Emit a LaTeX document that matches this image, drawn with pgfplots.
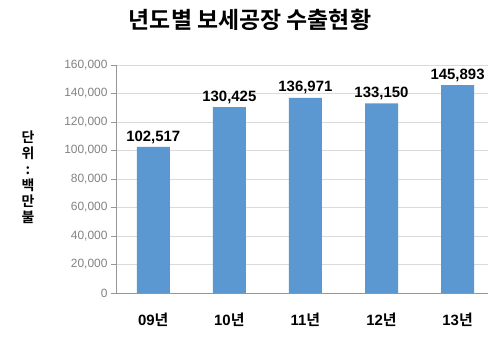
\documentclass[border=0pt]{standalone}
\usepackage{pgfplots}
\pgfplotsset{compat=1.18}
\usepackage{fontspec}
\setmainfont{Liberation Sans}
\newfontfamily\kr{Noto Sans CJK KR}[BoldFont={* Bold}]
\definecolor{barblue}{RGB}{91,152,210}
\definecolor{axgray}{RGB}{150,150,150}
\definecolor{gridgray}{RGB}{218,218,218}
\definecolor{tickgray}{RGB}{130,130,130}
\begin{document}
\begin{tikzpicture}
\useasboundingbox (-116bp,-60bp) rectangle (384bp,293bp);
\begin{axis}[
  at={(0,0)}, anchor=south west,
  scale only axis, width=372bp, height=228bp,
  xmin=-0.49, xmax=4.4, ymin=0, ymax=160000,
  axis x line=bottom, axis y line=left,
  axis line style={draw=axgray, -},
  ymajorgrids, grid style={draw=gridgray, line width=0.8pt},
  ybar, bar width=33bp,
  xtick=data,
  xticklabels={09{\kr 년},10{\kr 년},11{\kr 년},12{\kr 년},13{\kr 년}},
  xticklabel style={font=\fontsize{15}{15}\selectfont\bfseries, yshift=-11bp},
  x tick style={draw=none},
  ytick={0,20000,...,160000},
  scaled y ticks=false,
  /pgf/number format/assume math mode=true,
  yticklabel style={font=\fontsize{12}{12}\selectfont, text=tickgray},
  yticklabel={\pgfmathprintnumber[fixed,1000 sep={,}]{\tick}},
  y tick style={draw=axgray},
  tick align=outside, major tick length=5bp,
  nodes near coords,
  nodes near coords style={font=\fontsize{15}{15}\selectfont\bfseries, text=black, /pgf/number format/.cd, fixed, 1000 sep={,}},
  clip=false,
]
\addplot[fill=barblue, draw=none] coordinates {(0,102517) (1,130425) (2,136971) (3,133150) (4,145893)};
\end{axis}
\node[font=\kr\bfseries\fontsize{23}{23}\selectfont] at (134bp,273bp) {년도별 보세공장 수출현황};
\node[font=\kr\bfseries\fontsize{14}{16}\selectfont, align=center, inner sep=0pt] at (-88bp,116bp) {단\\위\\:\\백\\만\\불};
\end{tikzpicture}
\end{document}
